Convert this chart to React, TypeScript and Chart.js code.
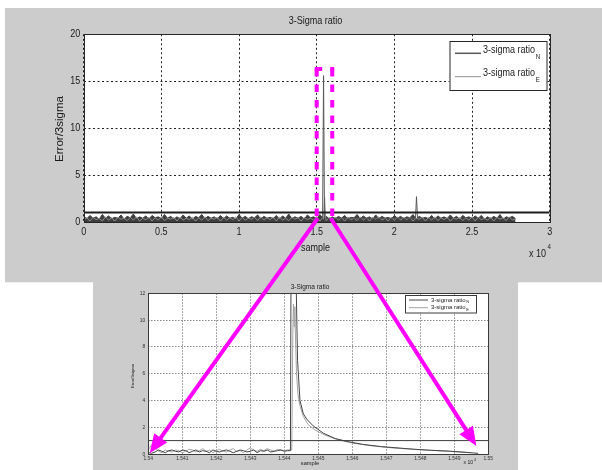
import React, { useEffect, useRef } from "react";
import { Chart, registerables } from "chart.js";

Chart.register(...registerables);

// ---------------- data ----------------
const TITLE = "3-Sigma ratio";
const X_LABEL = "sample";
const Y_LABEL = "Error/3sigma";
const SERIES_LABEL = "3-sigma ratio";
const SERIES_SUBS = ["N", "E"];
const THRESHOLD = 1;

// overview plot (top)
const topXRange = [0, 30000];
const topXStep = 5000;
const topYRange = [0, 20];
const topYStep = 5;
const topNoiseStart = 0;
const topNoiseStep = 200;
const topNoiseN = [
  0.6, 0.35, 0.7, 0.4, 0.55, 0.3, 0.8, 0.4, 0.65, 0.35,
  0.5, 0.4, 0.75, 0.3, 0.6, 0.45, 0.85, 0.35, 0.55, 0.4,
  0.65, 0.3, 0.7, 0.45, 0.55, 0.35, 0.8, 0.4, 0.6, 0.3,
  0.55, 0.35, 0.75, 0.4, 0.65, 0.3, 0.6, 0.45, 0.8, 0.35,
  0.6, 0.4, 0.55, 0.3, 0.7, 0.35, 0.65, 0.4, 0.5, 0.3,
  0.8, 0.4, 0.6, 0.35, 0.55, 0.45, 0.75, 0.3, 0.6, 0.4,
  0.5, 0.35, 0.7, 0.3, 0.65, 0.4, 0.85, 0.35, 0.55, 0.4,
  0.6, 0.3, 0.75, 0.45, 0.55, 0.35, 0.8, 0.4, 0.65, 0.3,
  0.55, 0.35, 0.6, 0.4, 0.7, 0.3, 0.5, 0.45, 0.8, 0.35,
  0.65, 0.4, 0.55, 0.3, 0.75, 0.35, 0.6, 0.4, 0.5, 0.3,
  0.7, 0.4, 0.6, 0.35, 0.55, 0.45, 0.8, 0.3, 0.6, 0.4,
  0.5, 0.35, 0.7, 0.3, 0.65, 0.4, 0.55, 0.35, 0.75, 0.4,
  0.6, 0.3, 0.7, 0.45, 0.55, 0.35, 0.65, 0.4, 0.7, 0.3,
  0.55, 0.35, 0.6, 0.4, 0.8, 0.3, 0.55, 0.45, 0.6, 0.35,
];
const topNoiseE = [
  0.2, 0.45, 0.1, 0.5, 0.25, 0.4, 0.1, 0.55, 0.2, 0.45,
  0.1, 0.5, 0.3, 0.4, 0.15, 0.5, 0.2, 0.55, 0.1, 0.4,
  0.25, 0.5, 0.1, 0.45, 0.2, 0.55, 0.15, 0.4, 0.3, 0.5,
  0.1, 0.5, 0.2, 0.4, 0.25, 0.5, 0.1, 0.45, 0.2, 0.55,
  0.15, 0.4, 0.3, 0.5, 0.1, 0.5, 0.2, 0.45, 0.25, 0.55,
  0.1, 0.5, 0.2, 0.4, 0.3, 0.5, 0.15, 0.55, 0.2, 0.45,
  0.25, 0.5, 0.1, 0.55, 0.2, 0.4, 0.15, 0.5, 0.3, 0.45,
  0.1, 0.5, 0.25, 0.4, 0.2, 0.55, 0.1, 0.5, 0.15, 0.45,
  0.3, 0.5, 0.2, 0.45, 0.1, 0.5, 0.25, 0.4, 0.15, 0.55,
  0.2, 0.45, 0.1, 0.5, 0.3, 0.55, 0.2, 0.4, 0.1, 0.5,
  0.15, 0.55, 0.2, 0.45, 0.25, 0.5, 0.1, 0.4, 0.3, 0.5,
  0.1, 0.5, 0.2, 0.55, 0.15, 0.45, 0.25, 0.5, 0.1, 0.4,
  0.3, 0.5, 0.15, 0.45, 0.2, 0.55, 0.1, 0.5, 0.25, 0.4,
  0.2, 0.5, 0.1, 0.5, 0.3, 0.45, 0.15, 0.55, 0.2, 0.35,
];
// isolated spikes on the overview (sample, value)
const topSpikeNX = [15380, 15442, 15500, 21360, 21425, 21490];
const topSpikeNY = [0.4, 15.6, 0.4, 0.4, 2.7, 0.4];
const topSpikeEX = [15440, 15510, 15580];
const topSpikeEY = [0.3, 2.6, 0.3];

// zoomed plot (bottom)
const zoomXRange = [15400, 15500];
const zoomXStep = 10;
const zoomYRange = [0, 12];
const zoomYStep = 2;
const zoomNoiseStart = 15400;
const zoomNoiseStep = 1;
const zoomNoiseN = [
  0.1, 0.05, 0.15, 0.3, 0.2, 0.1, 0.25, 0.3, 0.2, 0.15,
  0.3, 0.25, 0.1, 0.2, 0.3, 0.15, 0.25, 0.2, 0.1, 0.3,
  0.2, 0.15, 0.25, 0.3, 0.2, 0.1, 0.2, 0.3, 0.25, 0.15,
  0.2, 0.3, 0.1, 0.25, 0.2, 0.3, 0.15, 0.2, 0.25, 0.3,
  0.2, 0.25,
];
const zoomNoiseE = [
  0.3, 0.7, 0.5, 0.2, 0.1, 0.3, 0.2, 0.15, 0.3, 0.25,
  0.1, 0.2, 0.35, 0.3, 0.15, 0.25, 0.4, 0.2, 0.3, 0.1,
  0.25, 0.35, 0.2, 0.15, 0.3, 0.4, 0.2, 0.25, 0.1, 0.3,
  0.45, 0.3, 0.2, 0.35, 0.25, 0.4, 0.3, 0.2, 0.35, 0.3,
  0.25, 0.3,
];
const zoomPeakNX = [15441.8, 15442.0, 15443.4, 15443.9, 15444.6, 15445.6, 15446.6, 15448.5, 15451.5, 15455, 15458.8, 15463, 15468.6, 15474, 15478.4, 15483, 15488.2, 15493.6, 15497];
const zoomPeakNY = [0.25, 15.7, 14.0, 7.0, 4.0, 3.0, 2.6, 2.1, 1.55, 1.15, 0.92, 0.72, 0.55, 0.44, 0.35, 0.28, 0.22, 0.12, 0.05];
const zoomPeakEX = [15442.2, 15442.5, 15442.7, 15442.9, 15443.1, 15443.3, 15443.6, 15444, 15444.6, 15445.6, 15447, 15449, 15452, 15456, 15460, 15466, 15472, 15480, 15488, 15495];
const zoomPeakEY = [0.3, 9.0, 11.2, 9.5, 11.0, 8.5, 6.0, 4.5, 3.6, 2.8, 2.2, 1.8, 1.4, 1.05, 0.82, 0.6, 0.45, 0.32, 0.2, 0.1];

// annotation (zoom window marked on the overview)
const highlightX = [15000, 16000];
const highlightY = [0.5, 16.3];

// ---------------- styles ----------------
const PANEL = "#cccccc";
const MAGENTA = "#ff00ff";
const INK = "#1a1a1a";
const N_COLOR = "#595959";
const N_FILL = "#3e3e3e";
const E_COLOR = "#8e8e8e";
const SANS = "'Liberation Sans', Arial, sans-serif";
const NX = 0.82; // horizontal squeeze for condensed text

function buildSeries(start: number, step: number, vals: number[], ex: number[] = [], ey: number[] = []) {
  const pts = vals.map((y, i) => ({ x: start + i * step, y }));
  ex.forEach((x, i) => pts.push({ x, y: ey[i] }));
  pts.sort((a, b) => a.x - b.x);
  return pts;
}

function text(
  ctx: CanvasRenderingContext2D,
  s: string,
  x: number,
  y: number,
  size: number,
  o: { align?: CanvasTextAlign; baseline?: CanvasTextBaseline; sx?: number; rot?: number; color?: string } = {}
) {
  const sx = o.sx ?? 1;
  ctx.save();
  ctx.translate(x, y);
  if (o.rot) ctx.rotate(o.rot);
  ctx.scale(sx, 1);
  ctx.font = `${size}px ${SANS}`;
  ctx.textAlign = o.align ?? "center";
  ctx.textBaseline = o.baseline ?? "middle";
  ctx.fillStyle = o.color ?? INK;
  ctx.fillText(s, 0, 0);
  const w = ctx.measureText(s).width * sx;
  ctx.restore();
  return w;
}

function drawLegend(ctx: CanvasRenderingContext2D, chart: any, o: any) {
  const ds = chart.data.datasets.filter((d: any) => d.legendIndex !== undefined).sort((a: any, b: any) => a.legendIndex - b.legendIndex);
  ctx.save();
  ctx.fillStyle = "#fff";
  ctx.fillRect(o.box[0], o.box[1], o.box[2], o.box[3]);
  ctx.strokeStyle = o.border;
  ctx.lineWidth = 1;
  ctx.strokeRect(o.box[0] + 0.5, o.box[1] + 0.5, o.box[2], o.box[3]);
  ds.forEach((d: any, i: number) => {
    const ly = o.lineY[i];
    ctx.strokeStyle = d.borderColor;
    ctx.lineWidth = o.lineW[i];
    ctx.beginPath();
    ctx.moveTo(o.lineX[0], ly);
    ctx.lineTo(o.lineX[1], ly);
    ctx.stroke();
    const w = text(ctx, d.label, o.textX, ly + o.baseOff, o.size, { align: "left", baseline: "alphabetic", sx: o.sx });
    text(ctx, d.sub, o.textX + w + 0.5, ly + o.baseOff + o.subDrop, o.subSize, { align: "left", baseline: "alphabetic", sx: o.sx });
  });
  ctx.restore();
}

function frame(chart: any, color: string) {
  const { ctx, chartArea: a } = chart;
  ctx.save();
  ctx.strokeStyle = color;
  ctx.lineWidth = 1;
  ctx.setLineDash([]);
  ctx.strokeRect(Math.round(a.left) + 0.5, Math.round(a.top) + 0.5, Math.round(a.right - a.left), Math.round(a.bottom - a.top));
  ctx.restore();
}

function arrow(ctx: CanvasRenderingContext2D, x0: number, y0: number, x1: number, y1: number, w: number, hl: number, hw: number) {
  const ang = Math.atan2(y1 - y0, x1 - x0);
  const c = Math.cos(ang), s = Math.sin(ang);
  const bx = x1 - hl * c, by = y1 - hl * s;
  ctx.lineWidth = w;
  ctx.beginPath();
  ctx.moveTo(x0, y0);
  ctx.lineTo(bx + c, by + s);
  ctx.stroke();
  ctx.beginPath();
  ctx.moveTo(x1, y1);
  ctx.lineTo(bx + hw * s, by - hw * c);
  ctx.lineTo(bx - hw * s, by + hw * c);
  ctx.closePath();
  ctx.fill();
}

// draws tick labels with a condensed look
function tickLabels(chart: any, size: number, sx: number, xOff: number, yOff: number, fmt: (v: number) => string, color: string) {
  const { ctx, scales } = chart;
  const xs = scales.x, ys = scales.y, a = chart.chartArea;
  xs.ticks.forEach((t: any) => {
    text(ctx, fmt(t.value), xs.getPixelForValue(t.value), a.bottom + yOff, size, { sx, color });
  });
  ys.ticks.forEach((t: any) => {
    text(ctx, String(t.value), a.left - xOff, ys.getPixelForValue(t.value), size, { sx, color, align: "right" });
  });
}

export default function App() {
  const topRef = useRef<HTMLCanvasElement>(null);
  const botRef = useRef<HTMLCanvasElement>(null);

  useEffect(() => {
    const topFmt = (v: number) => String(v / 10000);
    const botFmt = (v: number) => String(parseFloat((v / 10000).toFixed(3)));

    const topDecor = {
      id: "topDecor",
      beforeDraw(chart: any) {
        const { ctx, chartArea: a } = chart;
        ctx.save();
        ctx.fillStyle = PANEL;
        ctx.fillRect(5, 8, 597, 274.3);
        ctx.fillRect(93, 282, 425, 188);
        ctx.fillStyle = "#fff";
        ctx.fillRect(a.left, a.top, a.right - a.left, a.bottom - a.top);
        ctx.restore();
      },
      afterDraw(chart: any) {
        const ctx = chart.ctx;
        frame(chart, "#262626");
        tickLabels(chart, 11, NX, 3.5, 10, topFmt, INK);
        text(ctx, TITLE, 315.5, 21, 11, { sx: NX });
        text(ctx, X_LABEL, 315.5, 248, 11, { sx: NX });
        text(ctx, Y_LABEL, 60, 129, 11.5, { rot: -Math.PI / 2 });
        text(ctx, "x 10", 529, 254, 11, { align: "left", sx: NX });
        text(ctx, "4", 547.5, 247, 7.5, { align: "left", sx: NX });
        drawLegend(ctx, chart, {
          box: [449.5, 41, 97, 49],
          border: "#262626",
          lineY: [53.3, 76.7],
          lineW: [1.5, 1],
          lineX: [455, 481],
          textX: 483,
          baseOff: -0.8,
          subDrop: 6.5,
          size: 11,
          subSize: 7.5,
          sx: NX,
        });
      },
    };

    const top = new Chart(topRef.current!, {
      type: "line",
      data: {
        datasets: [
          { label: "threshold", data: [{ x: topXRange[0], y: THRESHOLD }, { x: topXRange[1], y: THRESHOLD }], borderColor: "#1e1e1e", borderWidth: 2, pointRadius: 0 },
          { label: SERIES_LABEL, sub: SERIES_SUBS[0], legendIndex: 0, data: buildSeries(topNoiseStart, topNoiseStep, [], topSpikeNX, topSpikeNY), borderColor: N_COLOR, borderWidth: 1, pointRadius: 0 },
          { label: SERIES_LABEL, sub: SERIES_SUBS[1], legendIndex: 1, data: buildSeries(topNoiseStart, topNoiseStep, topNoiseE, topSpikeEX, topSpikeEY), borderColor: E_COLOR, borderWidth: 1, pointRadius: 0 },
          { label: SERIES_LABEL, data: buildSeries(topNoiseStart, topNoiseStep, topNoiseN), borderColor: N_FILL, backgroundColor: N_FILL, fill: "origin", borderWidth: 1, pointRadius: 0 },
        ] as any,
      },
      options: {
        responsive: false,
        animation: false,
        events: [],
        layout: { padding: { left: 0, top: 34.3, right: 52.3, bottom: 0 } },
        plugins: { legend: { display: false }, tooltip: { enabled: false } },
        elements: { line: { tension: 0 } },
        scales: {
          x: {
            type: "linear",
            min: topXRange[0],
            max: topXRange[1],
            afterFit: (s: any) => { s.height = 248; },
            ticks: { stepSize: topXStep, display: false },
            grid: { color: "#202020", drawTicks: false, lineWidth: 1 },
            border: { display: false, dash: [2, 2.5] },
          },
          y: {
            type: "linear",
            min: topYRange[0],
            max: topYRange[1],
            afterFit: (s: any) => { s.width = 83.7; },
            ticks: { stepSize: topYStep, display: false },
            grid: { color: "#202020", drawTicks: false, lineWidth: 1 },
            border: { display: false, dash: [2, 2.5] },
          },
        },
      } as any,
      plugins: [topDecor],
    });

    const botDecor = {
      id: "botDecor",
      beforeDraw(chart: any) {
        const { ctx, chartArea: a } = chart;
        ctx.save();
        ctx.fillStyle = "#fff";
        ctx.fillRect(a.left, a.top, a.right - a.left, a.bottom - a.top);
        ctx.restore();
      },
      afterDraw(chart: any) {
        const ctx = chart.ctx;
        frame(chart, "#3a3a3a");
        tickLabels(chart, 5.8, 0.85, 3, 4.2, botFmt, "#333");
        text(ctx, TITLE, 310, 287, 6.5);
        text(ctx, X_LABEL, 310, 463.5, 5.7);
        text(ctx, Y_LABEL, 133, 376, 4.2, { rot: -Math.PI / 2 });
        text(ctx, "x 10", 463.5, 463, 5, { align: "left" });
        text(ctx, "4", 474, 460, 3.5, { align: "left" });
        drawLegend(ctx, chart, {
          box: [405, 295, 71, 17.5],
          border: "#3a3a3a",
          lineY: [300, 307.7],
          lineW: [1, 1],
          lineX: [409, 428],
          textX: 431,
          baseOff: 1.5,
          subDrop: 1.8,
          size: 6,
          subSize: 4,
          sx: 1,
        });

        // magenta zoom marker and arrows
        const xT = top.scales.x, yT = top.scales.y, xB = chart.scales.x, yB = chart.scales.y;
        const L = xT.getPixelForValue(highlightX[0]);
        const R = xT.getPixelForValue(highlightX[1]);
        const T = yT.getPixelForValue(highlightY[1]);
        const B = yT.getPixelForValue(highlightY[0]);
        ctx.save();
        ctx.strokeStyle = MAGENTA;
        ctx.fillStyle = MAGENTA;
        ctx.lineWidth = 4;
        ctx.setLineDash([7.5, 8]);
        ctx.beginPath();
        ctx.moveTo(L, T);
        ctx.lineTo(L, B);
        ctx.stroke();
        ctx.beginPath();
        ctx.moveTo(L - 2, T);
        ctx.lineTo(R + 2, T);
        ctx.stroke();
        ctx.beginPath();
        ctx.moveTo(R, T);
        ctx.lineTo(R, B);
        ctx.stroke();
        ctx.setLineDash([]);
        ctx.lineCap = "butt";
        arrow(ctx, xT.getPixelForValue(15070), yT.getPixelForValue(0.4), xB.getPixelForValue(15400.4), yB.getPixelForValue(0.05), 4, 19, 8);
        arrow(ctx, xT.getPixelForValue(15900), yT.getPixelForValue(0.4), xB.getPixelForValue(15496.5), yB.getPixelForValue(0.6), 4, 19, 8);
        ctx.restore();
      },
    };

    const bottom = new Chart(botRef.current!, {
      type: "line",
      data: {
        datasets: [
          { label: "threshold", data: [{ x: zoomXRange[0], y: THRESHOLD }, { x: zoomXRange[1], y: THRESHOLD }], borderColor: "#3c3c3c", borderWidth: 1, pointRadius: 0 },
          { label: SERIES_LABEL, sub: SERIES_SUBS[0], legendIndex: 0, data: buildSeries(zoomNoiseStart, zoomNoiseStep, zoomNoiseN, zoomPeakNX, zoomPeakNY), borderColor: "#454545", borderWidth: 1, pointRadius: 0 },
          { label: SERIES_LABEL, sub: SERIES_SUBS[1], legendIndex: 1, data: buildSeries(zoomNoiseStart, zoomNoiseStep, zoomNoiseE, zoomPeakEX, zoomPeakEY), borderColor: "#a4a4a4", borderWidth: 1, pointRadius: 0 },
        ] as any,
      },
      options: {
        responsive: false,
        animation: false,
        events: [],
        layout: { padding: { left: 0, top: 293.3, right: 113.7, bottom: 0 } },
        plugins: { legend: { display: false }, tooltip: { enabled: false } },
        elements: { line: { tension: 0 } },
        scales: {
          x: {
            type: "linear",
            min: zoomXRange[0],
            max: zoomXRange[1],
            afterFit: (s: any) => { s.height = 16; },
            ticks: { stepSize: zoomXStep, display: false },
            grid: { color: "#8a8a8a", drawTicks: false, lineWidth: 1 },
            border: { display: false, dash: [1.5, 1.5] },
          },
          y: {
            type: "linear",
            min: zoomYRange[0],
            max: zoomYRange[1],
            afterFit: (s: any) => { s.width = 148.3; },
            ticks: { stepSize: zoomYStep, display: false },
            grid: { color: "#8a8a8a", drawTicks: false, lineWidth: 1 },
            border: { display: false, dash: [1.5, 1.5] },
          },
        },
      } as any,
      plugins: [botDecor],
    });

    return () => {
      bottom.destroy();
      top.destroy();
    };
  }, []);

  const cv: React.CSSProperties = { position: "absolute", left: 0, top: 0, width: 602, height: 470 };
  return (
    <div style={{ position: "absolute", left: 0, top: 0, width: 602, height: 470, background: "#fff", overflow: "hidden" }}>
      <canvas ref={topRef} width={602} height={470} style={cv} />
      <canvas ref={botRef} width={602} height={470} style={cv} />
    </div>
  );
}
